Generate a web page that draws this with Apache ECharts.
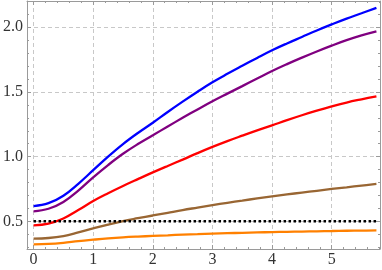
<!DOCTYPE html>
<html>
<head>
<meta charset="utf-8">
<script src="https://cdn.jsdelivr.net/npm/echarts@6/dist/echarts.min.js"></script>
<style>html,body{margin:0;padding:0;background:#fff}#c{width:382px;height:270px}</style>
</head>
<body>
<div id="c"></div>
<script>
var xs =     [0,     0.25,  0.5,   0.75,  1,     1.25,  1.5,   1.75,  2,     2.25,  2.5,   2.75,  3,     3.25,  3.5,   3.75,  4,     4.25,  4.5,   4.75,  5,     5.25,  5.5,   5.75];
var blue =   [0.618, 0.640, 0.698, 0.790, 0.895, 1.000, 1.097, 1.183, 1.262, 1.345, 1.425, 1.502, 1.575, 1.640, 1.702, 1.763, 1.822, 1.875, 1.925, 1.975, 2.022, 2.067, 2.108, 2.150];
var purple = [0.577, 0.597, 0.650, 0.738, 0.840, 0.935, 1.022, 1.097, 1.165, 1.233, 1.300, 1.365, 1.428, 1.487, 1.545, 1.604, 1.662, 1.715, 1.765, 1.813, 1.858, 1.900, 1.937, 1.968];
var red =    [0.468, 0.482, 0.522, 0.587, 0.657, 0.717, 0.773, 0.826, 0.878, 0.928, 0.977, 1.027, 1.075, 1.120, 1.162, 1.203, 1.242, 1.282, 1.320, 1.355, 1.388, 1.418, 1.443, 1.466];
var brown =  [0.366, 0.371, 0.386, 0.414, 0.445, 0.475, 0.502, 0.524, 0.545, 0.566, 0.587, 0.606, 0.625, 0.643, 0.660, 0.677, 0.693, 0.708, 0.722, 0.736, 0.750, 0.763, 0.776, 0.789];
var orange = [0.322, 0.325, 0.334, 0.347, 0.358, 0.368, 0.376, 0.382, 0.387, 0.392, 0.397, 0.401, 0.405, 0.408, 0.411, 0.414, 0.417, 0.419, 0.421, 0.423, 0.425, 0.427, 0.428, 0.430];
var refX = [0, 5.75];
var refY = [0.5, 0.5];

function pairs(xa, ya){ return xa.map(function(x,i){ return [x, ya[i]]; }); }

var frameColor = '#9a9a9a';
var tickStyle = {show:true, inside:true, length:4, lineStyle:{color:frameColor, width:1}};
var minorStyle = {show:true, splitNumber:5, length:2, lineStyle:{color:frameColor, width:1}};
var labelFont = {fontFamily:'Liberation Serif', fontSize:16, color:'#333'};

function lineSeries(data, color, w){
  return {type:'line', data:data, showSymbol:false, smooth:0.4, lineStyle:{color:color, width:w}, itemStyle:{color:color}, z:3, silent:true};
}

var chart = echarts.init(document.getElementById('c'), null, {renderer:'canvas'});
chart.setOption({
  animation:false,
  backgroundColor:'#fff',
  grid:{left:25, right:2, top:1, bottom:21},
  xAxis:[{
    type:'value', position:'bottom', min:-0.11, max:5.81, minInterval:1, maxInterval:1,
    axisLine:{show:true, onZero:false, lineStyle:{color:frameColor, width:1}},
    axisTick:tickStyle, minorTick:minorStyle,
    axisLabel:Object.assign({margin:3, showMinLabel:false, showMaxLabel:false, formatter:function(v){return String(Math.round(v));}}, labelFont),
    splitLine:{show:true, lineStyle:{color:'#c8c8c8', type:[4,3], width:1}}
  },{
    type:'value', position:'top', min:-0.11, max:5.81, minInterval:1, maxInterval:1,
    axisLine:{show:true, onZero:false, lineStyle:{color:frameColor, width:1}},
    axisTick:tickStyle, minorTick:minorStyle, axisLabel:{show:false}, splitLine:{show:false}
  }],
  yAxis:[{
    type:'value', position:'left', min:0.286, max:2.203, minInterval:0.5, maxInterval:0.5,
    axisLine:{show:true, onZero:false, lineStyle:{color:frameColor, width:1}},
    axisTick:tickStyle, minorTick:minorStyle,
    axisLabel:Object.assign({margin:4, showMinLabel:false, showMaxLabel:false, formatter:function(v){return v.toFixed(1);}}, labelFont),
    splitLine:{show:true, lineStyle:{color:'#c8c8c8', type:[4,3], width:1}}
  },{
    type:'value', position:'right', min:0.286, max:2.203, minInterval:0.5, maxInterval:0.5,
    axisLine:{show:true, onZero:false, lineStyle:{color:frameColor, width:1}},
    axisTick:tickStyle, minorTick:minorStyle, axisLabel:{show:false}, splitLine:{show:false}
  }],
  series:[
    lineSeries(pairs(xs, orange), '#ff8000', 2.3),
    lineSeries(pairs(xs, brown), '#996633', 2.3),
    lineSeries(pairs(xs, red), '#ff0000', 2.3),
    lineSeries(pairs(xs, purple), '#800080', 2.3),
    lineSeries(pairs(xs, blue), '#0000ff', 2.3),
    {type:'line', data:pairs(refX, refY), showSymbol:false, lineStyle:{color:'#000', width:2.5, type:[2.5,2.5]}, z:4, silent:true}
  ]
});
</script>
</body>
</html>
